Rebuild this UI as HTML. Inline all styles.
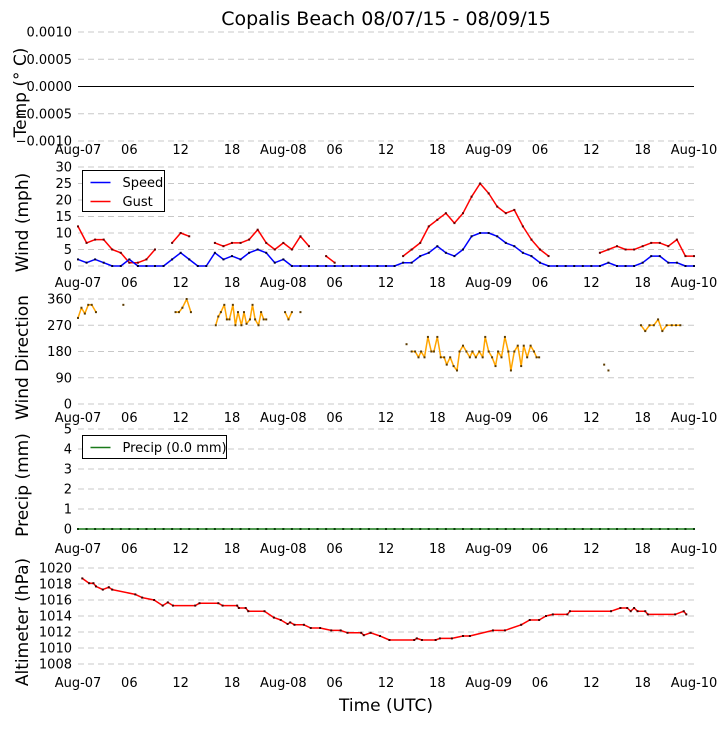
<!DOCTYPE html>
<html><head><meta charset="utf-8"><style>
body{margin:0;background:#fff;}
svg text{font-family:"DejaVu Sans","Liberation Sans",sans-serif;}
</style></head><body>
<svg id="chart" width="726" height="725" viewBox="0 0 726 725" xmlns="http://www.w3.org/2000/svg">
<text x="386" y="25" font-size="19" text-anchor="middle">Copalis Beach 08/07/15 - 08/09/15</text>
<text x="386" y="711" font-size="17" text-anchor="middle">Time (UTC)</text>
</svg>
<script>
const xTickLabels = ["Aug-07","06","12","18","Aug-08","06","12","18","Aug-09","06","12","18","Aug-10"];
const xTickHours = [0,6,12,18,24,30,36,42,48,54,60,66,72];
const windHours = [];
for (let h = 0; h <= 72; h++) windHours.push(h);
const gust = [12,7,8,8,5,4,1,1,2,5,null,7,10,9,null,null,7,6,7,7,8,11,7,5,7,5,9,6,null,3,1,null,null,null,null,null,null,null,3,5,7,12,14,16,13,16,21,25,22,18,16,17,12,8,5,3,null,null,null,null,null,4,5,6,5,5,6,7,7,6,8,3,3];
const speed = [2,1,2,1,0,0,2,0,0,0,0,2,4,2,0,0,4,2,3,2,4,5,4,1,2,0,0,0,0,0,0,0,0,0,0,0,0,0,1,1,3,4,6,4,3,5,9,10,10,9,7,6,4,3,1,0,0,0,0,0,0,0,1,0,0,0,1,3,3,1,1,0,0];
const dirHours = [0,0.4,0.8,1.2,1.6,2.1,null,5.3,null,11.4,11.8,12.2,12.7,13.2,null,16.1,16.4,16.7,17.1,17.4,17.7,18.1,18.4,18.7,19.1,19.4,19.7,20.1,20.4,20.7,21.1,21.4,21.7,22.0,null,24.2,24.6,25.0,null,26.0,null,38.4,null,39.0,39.4,39.8,40.1,40.5,40.9,41.3,41.6,42.0,42.4,42.8,43.1,43.5,43.9,44.3,44.6,45.0,45.4,45.8,46.1,46.5,46.9,47.3,47.6,48.0,48.4,48.8,49.1,49.5,49.9,50.3,50.6,51.0,51.4,51.8,52.1,52.5,52.9,53.3,53.6,53.9,null,61.5,null,62.0,null,65.8,66.3,66.8,67.3,67.8,68.3,68.8,69.4,69.9,70.4];
const dirValues = [295,330,310,340,340,315,null,340,null,315,315,330,360,315,null,270,300,315,340,290,290,340,270,315,270,315,275,290,340,290,270,315,290,290,null,315,290,315,null,315,null,205,null,180,180,160,180,160,230,180,180,230,160,160,135,160,130,115,180,200,180,160,180,160,180,160,230,180,160,130,180,160,230,180,115,180,200,130,200,160,200,180,160,160,null,135,null,115,null,270,250,270,270,290,250,270,270,270,270];
const altHours = [0.5,1.3,1.8,2.1,2.9,3.6,4.0,6.7,7.5,8.9,9.9,10.5,11.1,13.7,14.2,16.4,16.9,18.6,18.8,19.6,19.9,21.8,22.9,23.7,24.5,24.8,25.3,26.4,27.2,28.3,29.6,30.7,31.5,33.1,33.4,34.2,35.3,36.4,39.3,39.6,40.2,41.8,42.3,43.7,45.0,45.8,48.5,49.9,51.8,52.8,53.9,54.7,55.5,57.2,57.5,62.3,63.4,64.2,64.6,65.0,65.4,66.3,66.6,69.8,70.8,71.1];
const altValues = [1018.7,1018.1,1018.1,1017.7,1017.3,1017.6,1017.3,1016.7,1016.3,1016.0,1015.3,1015.7,1015.3,1015.3,1015.6,1015.6,1015.3,1015.3,1015.0,1015.0,1014.6,1014.6,1013.8,1013.5,1013.0,1013.2,1012.9,1012.9,1012.5,1012.5,1012.2,1012.2,1011.9,1011.9,1011.6,1011.9,1011.5,1011.0,1011.0,1011.2,1011.0,1011.0,1011.2,1011.2,1011.5,1011.5,1012.2,1012.2,1012.9,1013.5,1013.5,1014.0,1014.2,1014.2,1014.6,1014.6,1015.0,1015.0,1014.6,1015.0,1014.6,1014.6,1014.2,1014.2,1014.6,1014.2];
const precipHours = [];
for (let h = 0; h <= 72; h += 1) precipHours.push(h);
const precipValues = precipHours.map(() => 0);
const tempTicks = ["0.0010","0.0005","0.0000","\u22120.0005","\u22120.0010"];

const svg = document.getElementById('chart');
const NS = 'http://www.w3.org/2000/svg';
const X0 = 78, X1 = 694;
function xs(h){ return X0 + (h/72)*(X1-X0); }
function mk(tag, attrs, parent){
  const e = document.createElementNS(NS, tag);
  for (const k in attrs) e.setAttribute(k, attrs[k]);
  (parent||svg).appendChild(e);
  return e;
}
function txt(x,y,s,size,anchor,parent){
  const t = mk('text',{x:x,y:y,'font-size':size,'text-anchor':anchor||'middle'},parent);
  t.textContent = s; return t;
}
const panels = [
  {name:'temp', title:'Temp (\u00b0 C)', vmin:-0.001, vmax:0.001, ytop:32, ybot:141, ticks:[0.001,0.0005,0,-0.0005,-0.001], labels:tempTicks, xlab:154, tx:20},
  {name:'wind', title:'Wind (mph)', vmin:0, vmax:30, ytop:167, ybot:266, ticks:[30,25,20,15,10,5,0], xlab:287, tx:22},
  {name:'direction', title:'Wind Direction', vmin:0, vmax:360, ytop:299, ybot:404, ticks:[360,270,180,90,0], xlab:422, tx:22},
  {name:'precip', title:'Precip (mm)', vmin:0, vmax:5, ytop:429, ybot:529, ticks:[5,4,3,2,1,0], xlab:553, tx:22},
  {name:'altimeter', title:'Altimeter (hPa)', vmin:1008, vmax:1020, ytop:568, ybot:664, ticks:[1020,1018,1016,1014,1012,1010,1008], xlab:687, tx:22}
];
panels.forEach(p=>{
  p.ys = v => p.ybot - (v-p.vmin)/(p.vmax-p.vmin)*(p.ybot-p.ytop);
  const g = mk('g',{});
  
  
  p.ticks.forEach((t,i)=>{
    const y = p.ys(t);
    const gl = mk('line',{x1:X0,x2:X1,y1:y,y2:y,stroke:'#c8c8c8','stroke-width':1,'stroke-dasharray':'6,4'},g);
    
    
    const lab = txt(72, y+4.5, p.labels? p.labels[i] : String(t), 13, 'end', g);
    
    
  });
  xTickHours.forEach((h,i)=>{
    const lab = txt(xs(h), p.xlab, xTickLabels[i], 13, 'middle', g);
    
    
  });
  const cy = (p.ytop+p.ybot)/2;
  const tt = txt(p.tx, cy, p.title, 17, 'middle', g);
  tt.setAttribute('transform', 'rotate(-90 '+(p.tx+6)+' '+cy+')');
  
  
});
function series(hours, vals, p, color, name, markers, mcolor){
  let d = '', pen = false;
  const g = mk('g',{});
  
  
  for (let i=0;i<hours.length;i++){
    if (hours[i]===null || vals[i]===null){ pen=false; continue; }
    const x = xs(hours[i]), y = p.ys(vals[i]);
    d += (pen?'L':'M') + x.toFixed(1) + ' ' + y.toFixed(1) + ' ';
    pen = true;
  }
  const path = mk('path',{d:d,fill:'none',stroke:color,'stroke-width':1.5,'stroke-linejoin':'round'},g);
  
  
  if (markers){
    for (let i=0;i<hours.length;i++){
      if (hours[i]===null || vals[i]===null) continue;
      const r = mk('rect',{x:xs(hours[i])-1,y:p.ys(vals[i])-1,width:2,height:2,fill:mcolor},g);
      
      
    }
  }
}
const tz = mk('line',{x1:X0,x2:X1,y1:panels[0].ys(0),y2:panels[0].ys(0),stroke:'#000','stroke-width':1});


series(windHours, gust, panels[1], '#ff0000', 'gust-series', true, '#600');
series(windHours, speed, panels[1], '#0000ff', 'speed-series', true, '#003');
series(dirHours, dirValues, panels[2], '#ffa500', 'direction-series', true, '#5a3a00');
series(precipHours, precipValues, panels[3], '#1a7a1a', 'precip-series', true, '#0b3d0b');
series(altHours, altValues, panels[4], '#ff0000', 'altimeter-series', true, '#400');
function legend(x,y,w,h,items,name){
  const g = mk('g',{});
  
  
  mk('rect',{x:x,y:y,width:w,height:h,fill:'#fff',stroke:'#000','stroke-width':1},g);
  items.forEach((it,i)=>{
    const yy = y+12+i*19;
    const l = mk('line',{x1:x+8,x2:x+28,y1:yy,y2:yy,stroke:it.c,'stroke-width':1.5},g);
    
    
    const t = txt(x+40, yy+4.5, it.t, 13, 'start', g);
    
    
  });
}
legend(82.5,170.5,82,41,[{c:'#0000ff',t:'Speed'},{c:'#ff0000',t:'Gust'}],'wind-legend');
legend(82.5,435.5,144,23,[{c:'#1a7a1a',t:'Precip (0.0 mm)'}],'precip-legend');
</script>
</body></html>
